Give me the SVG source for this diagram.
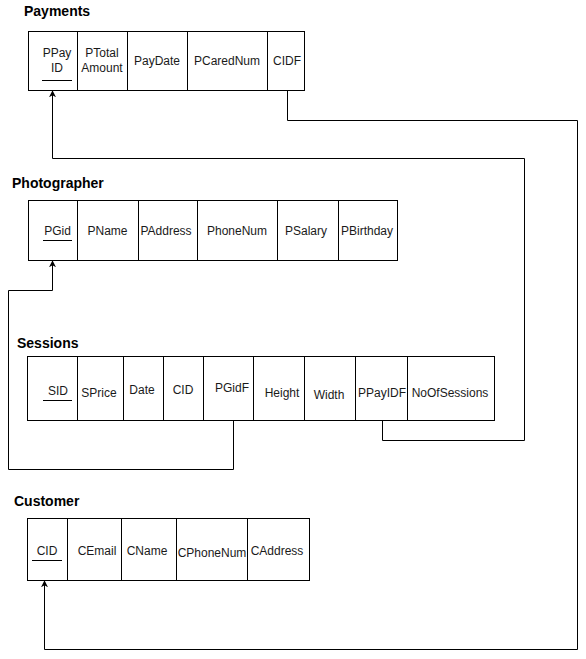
<svg xmlns="http://www.w3.org/2000/svg" width="586" height="659" viewBox="0 0 586 659">
<style>
.tbl{fill:#fff;stroke:#000;stroke-width:1}
.div{stroke:#000;stroke-width:1}
.t{font-family:"Liberation Sans",Arial,sans-serif;font-size:12px;fill:#1a1a1a;text-anchor:middle}
.title{font-family:"Liberation Sans",Arial,sans-serif;font-size:14px;font-weight:bold;fill:#000}
.ul{stroke:#000;stroke-width:1}
.conn{fill:none;stroke:#000;stroke-width:1}
</style>
<defs>
<marker id="arr" viewBox="0 0 10 10" refX="9" refY="5" markerWidth="7" markerHeight="7" orient="auto" markerUnits="userSpaceOnUse">
<path d="M0,0 L10,5 L0,10 L3,5 Z" fill="#000"/>
</marker>
</defs>
<rect width="586" height="659" fill="#fff"/>

<g id="payments">
<text class="title" x="24" y="16">Payments</text>
<rect class="tbl" x="28.5" y="31.5" width="276" height="59"/>
<path class="div" d="M77.5,31.5V90.5M127.5,31.5V90.5M187.5,31.5V90.5M267.5,31.5V90.5"/>
<text class="t" x="57" y="57">PPay</text>
<text class="t" x="57" y="72">ID</text>
<line class="ul" x1="42" y1="80.5" x2="72" y2="80.5"/>
<text class="t" x="102" y="57">PTotal</text>
<text class="t" x="102" y="72">Amount</text>
<text class="t" x="157" y="65">PayDate</text>
<text class="t" x="227" y="65">PCaredNum</text>
<text class="t" x="287" y="65">CIDF</text>
</g>

<g id="photographer">
<text class="title" x="12" y="188">Photographer</text>
<rect class="tbl" x="28.5" y="200.5" width="369" height="60"/>
<path class="div" d="M77.5,200.5V260.5M138.5,200.5V260.5M197.5,200.5V260.5M277.5,200.5V260.5M338.5,200.5V260.5"/>
<text class="t" x="57.5" y="235">PGid</text>
<line class="ul" x1="43" y1="240.5" x2="72" y2="240.5"/>
<text class="t" x="107.5" y="235">PName</text>
<text class="t" x="166" y="235">PAddress</text>
<text class="t" x="237" y="235">PhoneNum</text>
<text class="t" x="306" y="235">PSalary</text>
<text class="t" x="367" y="235">PBirthday</text>
</g>

<g id="sessions">
<text class="title" x="17" y="348">Sessions</text>
<rect class="tbl" x="27.5" y="356.5" width="467" height="64"/>
<path class="div" d="M77.5,356.5V420.5M123.5,356.5V420.5M163.5,356.5V420.5M203.5,356.5V420.5M253.5,356.5V420.5M304.5,356.5V420.5M355.5,356.5V420.5M407.5,356.5V420.5"/>
<text class="t" x="58" y="395">SID</text>
<line class="ul" x1="43" y1="400.5" x2="72" y2="400.5"/>
<text class="t" x="99" y="397">SPrice</text>
<text class="t" x="142" y="394">Date</text>
<text class="t" x="183" y="394">CID</text>
<text class="t" x="232" y="392">PGidF</text>
<text class="t" x="282" y="397">Height</text>
<text class="t" x="329" y="399">Width</text>
<text class="t" x="382" y="397">PPayIDF</text>
<text class="t" x="450" y="397">NoOfSessions</text>
</g>

<g id="customer">
<text class="title" x="14" y="506">Customer</text>
<rect class="tbl" x="27.5" y="518.5" width="282" height="62"/>
<path class="div" d="M67.5,518.5V580.5M121.5,518.5V580.5M176.5,518.5V580.5M247.5,518.5V580.5"/>
<text class="t" x="47" y="555">CID</text>
<line class="ul" x1="32" y1="560.5" x2="62" y2="560.5"/>
<text class="t" x="97" y="555">CEmail</text>
<text class="t" x="147" y="555">CName</text>
<text class="t" x="212" y="557">CPhoneNum</text>
<text class="t" x="277" y="555">CAddress</text>
</g>

<g id="connectors">
<path class="conn" d="M287.5,90.5V120.5H577.5V649.5H44.5V581" marker-end="url(#arr)"/>
<path class="conn" d="M382.5,420.5V440.5H524.5V158.5H52.5V91" marker-end="url(#arr)"/>
<path class="conn" d="M233.5,420.5V469.5H8.5V290.5H52.5V261" marker-end="url(#arr)"/>
</g>
</svg>
